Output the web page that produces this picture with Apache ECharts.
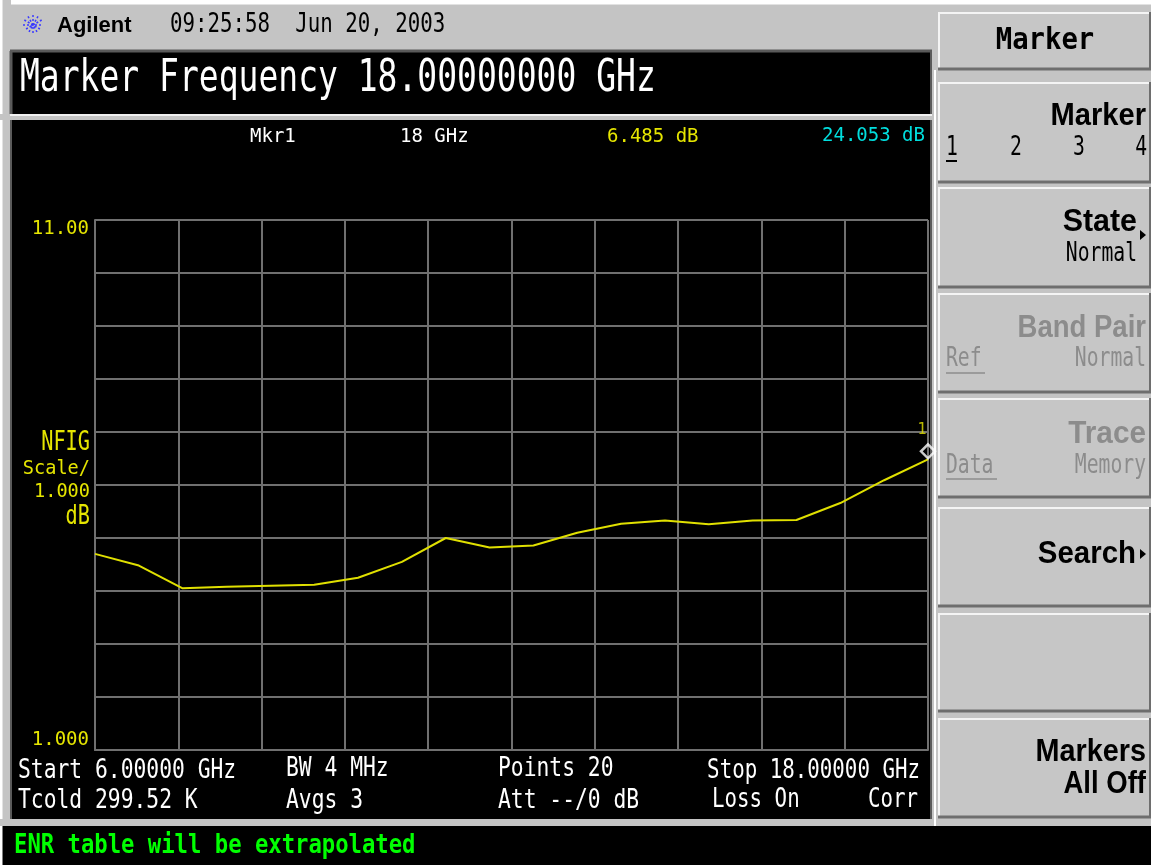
<!DOCTYPE html>
<html>
<head>
<meta charset="utf-8">
<script src="https://cdn.jsdelivr.net/npm/echarts@6/dist/echarts.min.js"></script>
<style>
  html, body { margin: 0; padding: 0; background: #c4c4c4; }
  #chart { width: 1151px; height: 865px; }
</style>
</head>
<body>
<div id="chart"></div>
<script>
// 20 measurement points, 6 - 18 GHz
const freqGHz = [6.000, 6.632, 7.263, 7.895, 8.526, 9.158, 9.789, 10.421, 11.053, 11.684,
                 12.316, 12.947, 13.579, 14.211, 14.842, 15.474, 16.105, 16.737, 17.368, 18.000];
const nfigDb  = [4.70, 4.48, 4.05, 4.08, 4.10, 4.12, 4.25, 4.55, 5.00, 4.82,
                 4.86, 5.10, 5.27, 5.33, 5.26, 5.33, 5.34, 5.66, 6.09, 6.485];
const marker1 = [18, 6.485];
const yLabelValues = [1, 11];
const yLabelTexts = ['1.000', '11.00'];

const MONO = '"DejaVu Sans Mono"';
const SANS = '"Liberation Sans"';
const YEL = '#e6e600';

// text helper, y = visual middle of the line
function txt(x, y, text, size, color, opt) {
    opt = opt || {};
    return {
        type: 'text', x: x, y: y, scaleX: opt.sx || 1, silent: true,
        style: {
            text: text, fill: color,
            font: (opt.bold ? 'bold ' : '') + size + 'px ' + (opt.fam || MONO),
            textAlign: opt.align || 'left', textVerticalAlign: 'middle'
        }
    };
}
// softkey caption (bold sans, right aligned)
function cap(x, y, text, color, sx, align) {
    return txt(x, y, text, 32, color, { bold: true, fam: SANS, sx: sx, align: align || 'right' });
}
function rect(x, y, w, h, fill) {
    return { type: 'rect', silent: true, shape: { x: x, y: y, width: w, height: h }, style: { fill: fill } };
}
function line(x1, y1, x2, y2, color, w) {
    return { type: 'line', silent: true, shape: { x1: x1, y1: y1, x2: x2, y2: y2 }, style: { stroke: color, lineWidth: w || 2 } };
}
function key(y, h) {
    const x = 938, w = 213;
    return [
        rect(x, y, w, h, '#c6c6c6'),
        line(x, y + 1, x + w, y + 1, '#f4f4f4', 2),
        line(x + 1, y, x + 1, y + h, '#f4f4f4', 2),
        line(x, y + h - 1, x + w, y + h - 1, '#6e6e6e', 3),
        line(x + w - 1, y, x + w - 1, y + h, '#6e6e6e', 2)
    ];
}
function tri(x, y) {
    return { type: 'polygon', silent: true, shape: { points: [[x, y - 5], [x + 6, y], [x, y + 5]] }, style: { fill: '#000' } };
}

const GREY = '#c4c4c4';
const DIS = '#8c8c8c';

let g = [];
// chrome around the black screen
g.push(rect(0, 0, 1151, 50, GREY));
g.push(line(0, 2, 1151, 2, '#ffffff', 5));
g.push(rect(0, 0, 11, 826, GREY));
g.push(line(1, 0, 1, 865, '#ffffff', 3));
g.push(rect(0, 114, 932, 6, GREY));
g.push(line(10, 115, 932, 115, '#f0f0f0', 2));
g.push(rect(0, 819, 932, 7, GREY));
g.push(rect(932, 5, 219, 821, GREY));
g.push(line(10, 51, 932, 51, '#5a5a5a', 3));
g.push(line(11, 51, 11, 114, '#5a5a5a', 3));
g.push(line(931, 51, 931, 114, '#5a5a5a', 2));
g.push(line(11, 120, 11, 819, '#5a5a5a', 2));
g.push(line(931, 120, 931, 819, '#5a5a5a', 2));
g.push(line(935, 70, 935, 826, '#ffffff', 2));

// Agilent logo
[0, 30, 60, 90, 120, 150].forEach(function (a) {
    const r = a * Math.PI / 180, cx = 33, cy = 25, R = 10;
    g.push({ type: 'line', silent: true,
        shape: { x1: cx - R * Math.cos(r), y1: cy - R * Math.sin(r), x2: cx + R * Math.cos(r), y2: cy + R * Math.sin(r) },
        style: { stroke: '#3a3aff', lineWidth: 1.5, lineDash: [2, 2] } });
});
g.push(txt(57, 26, 'Agilent', 22, '#000', { bold: true, fam: SANS }));
g.push(txt(170, 25, '09:25:58  Jun 20, 2003', 27, '#000', { sx: 0.77 }));

// title
g.push(txt(20, 80, 'Marker Frequency 18.00000000 GHz', 44, '#fff', { sx: 0.75 }));

// marker readout
g.push(txt(250, 137, 'Mkr1', 19, '#fff'));
g.push(txt(400, 137, '18 GHz', 19, '#fff'));
g.push(txt(607, 137, '6.485 dB', 19, YEL));
g.push(txt(925, 136, '24.053 dB', 19, '#00dede', { align: 'right' }));

// y scale legend
g.push(txt(90, 443, 'NFIG', 27, YEL, { align: 'right', sx: 0.75 }));
g.push(txt(90, 469, 'Scale/', 20, YEL, { align: 'right', sx: 0.93 }));
g.push(txt(90, 492, '1.000', 20, YEL, { align: 'right', sx: 0.93 }));
g.push(txt(90, 517, 'dB', 27, YEL, { align: 'right', sx: 0.75 }));

// bottom annotations
g.push(txt(18, 771, 'Start 6.00000 GHz', 26, '#fff', { sx: 0.82 }));
g.push(txt(286, 769, 'BW 4 MHz', 26, '#fff', { sx: 0.82 }));
g.push(txt(498, 769, 'Points 20', 26, '#fff', { sx: 0.82 }));
g.push(txt(920, 771, 'Stop 18.00000 GHz', 26, '#fff', { sx: 0.8, align: 'right' }));
g.push(txt(18, 801, 'Tcold 299.52 K', 26, '#fff', { sx: 0.82 }));
g.push(txt(286, 801, 'Avgs 3', 26, '#fff', { sx: 0.82 }));
g.push(txt(498, 801, 'Att --/0 dB', 26, '#fff', { sx: 0.82 }));
g.push(txt(712, 800, 'Loss On', 26, '#fff', { sx: 0.8 }));
g.push(txt(918, 800, 'Corr', 26, '#fff', { sx: 0.8, align: 'right' }));

// status line
g.push(txt(14, 846, 'ENR table will be extrapolated', 26, '#00ff00', { bold: true, sx: 0.855 }));

// softkeys
g = g.concat(key(12, 58));
g.push(txt(1045, 41, 'Marker', 31, '#000', { bold: true, sx: 0.88, align: 'center' }));
g = g.concat(key(82, 101));
g.push(cap(1146, 116, 'Marker', '#000', 0.91));
g.push(txt(946, 148, '1', 27, '#000', { sx: 0.73 }));
g.push(line(946, 161, 957, 161, '#000', 2));
g.push(txt(1010, 148, '2', 27, '#000', { sx: 0.73 }));
g.push(txt(1073, 148, '3', 27, '#000', { sx: 0.73 }));
g.push(txt(1147, 148, '4', 27, '#000', { sx: 0.73, align: 'right' }));
g = g.concat(key(187, 101));
g.push(cap(1137, 222, 'State', '#000', 0.95));
g.push(tri(1140, 235));
g.push(txt(1137, 254, 'Normal', 27, '#000', { sx: 0.73, align: 'right' }));
g = g.concat(key(293, 100));
g.push(cap(1146, 328, 'Band Pair', DIS, 0.86));
g.push(txt(946, 359, 'Ref', 27, DIS, { sx: 0.73 }));
g.push(line(946, 373, 985, 373, DIS, 1.5));
g.push(txt(1146, 359, 'Normal', 27, DIS, { sx: 0.73, align: 'right' }));
g = g.concat(key(398, 100));
g.push(cap(1146, 434, 'Trace', DIS, 0.93));
g.push(txt(946, 466, 'Data', 27, DIS, { sx: 0.73 }));
g.push(line(946, 479, 997, 479, DIS, 1.5));
g.push(txt(1146, 466, 'Memory', 27, DIS, { sx: 0.73, align: 'right' }));
g = g.concat(key(507, 100));
g.push(cap(1136, 554, 'Search', '#000', 0.92));
g.push(tri(1140, 554));
g = g.concat(key(613, 99));
g = g.concat(key(718, 100));
g.push(cap(1146, 752, 'Markers', '#000', 0.9));
g.push(cap(1146, 784, 'All Off', '#000', 0.86));

const chart = echarts.init(document.getElementById('chart'));
chart.setOption({
    backgroundColor: '#000',
    animation: false,
    graphic: { elements: g },
    grid: { left: 95, right: 223, top: 220, bottom: 115, containLabel: false, outerBoundsMode: 'none' },
    xAxis: {
        type: 'value', min: 6, max: 18, interval: 1.2,
        axisLine: { show: true, lineStyle: { color: '#707070', width: 2 } },
        axisTick: { show: false },
        axisLabel: { show: false },
        splitLine: { show: true, lineStyle: { color: '#707070', width: 2 } }
    },
    yAxis: {
        type: 'value', min: 1, max: 11, interval: 1,
        axisLine: { show: true, lineStyle: { color: '#707070', width: 2 } },
        axisTick: { show: false },
        axisLabel: {
            show: true, color: YEL, fontFamily: 'DejaVu Sans Mono', fontSize: 19, margin: 6,
            verticalAlignMaxLabel: 'top', verticalAlignMinLabel: 'bottom',
            formatter: function (v) {
                const i = yLabelValues.indexOf(v);
                return i >= 0 ? yLabelTexts[i] : '';
            }
        },
        splitLine: { show: true, lineStyle: { color: '#707070', width: 2 } }
    },
    series: [
        {
            type: 'line',
            data: freqGHz.map(function (f, i) { return [f, nfigDb[i]]; }),
            showSymbol: false,
            lineStyle: { color: '#e0e000', width: 2 },
            z: 3
        },
        {
            type: 'scatter',
            data: [marker1],
            clip: false,
            symbol: 'diamond',
            symbolSize: 14,
            symbolOffset: [0, -8],
            itemStyle: { color: 'rgba(0,0,0,0)', borderColor: '#ffffff', borderWidth: 2.5 },
            label: { show: true, formatter: '1', position: 'top', offset: [-6, 0], color: YEL, fontFamily: 'DejaVu Sans Mono', fontSize: 15 },
            z: 4
        }
    ]
});
</script>
</body>
</html>
